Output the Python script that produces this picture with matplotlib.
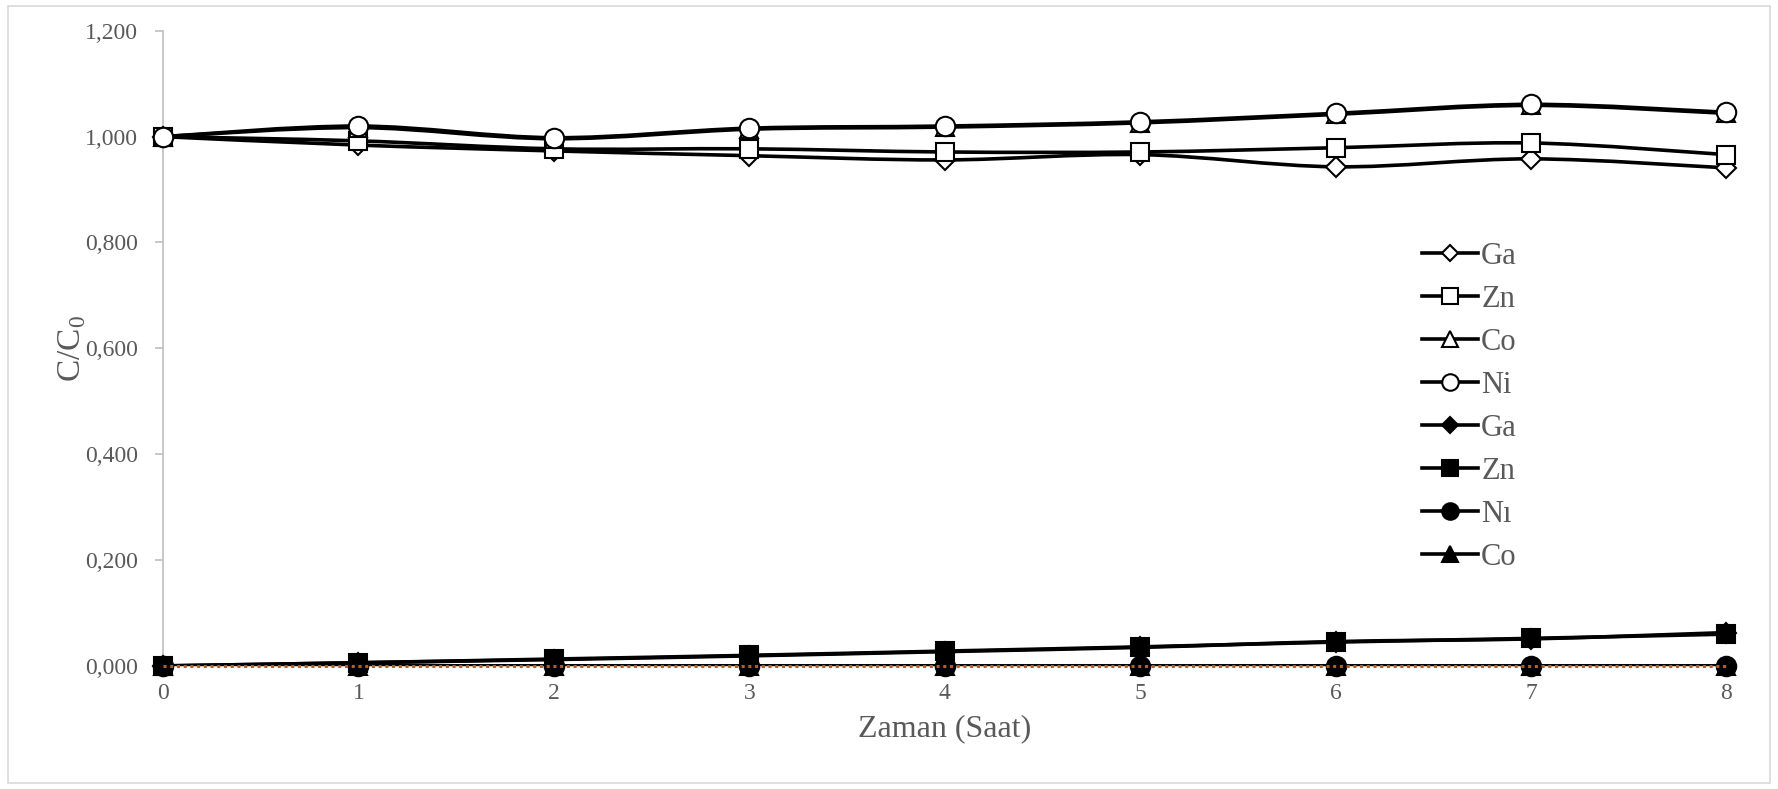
import numpy as np
import matplotlib
matplotlib.use("Agg")
import matplotlib.pyplot as plt
from matplotlib.path import Path
from matplotlib.patches import PathPatch, Rectangle
from matplotlib.lines import Line2D

plt.rcParams['font.family'] = ['Liberation Serif', 'DejaVu Serif']
plt.rcParams['mathtext.fontset'] = 'custom'
plt.rcParams['mathtext.rm'] = 'Liberation Serif'

# ---------------- data ----------------
hours = [0, 1, 2, 3, 4, 5, 6, 7, 8]

ga_open = [1.000, 0.984, 0.973, 0.964, 0.956, 0.966, 0.943, 0.958, 0.941]
zn_open = [1.000, 0.992, 0.977, 0.977, 0.971, 0.971, 0.979, 0.988, 0.966]
co_open = [1.000, 1.017, 0.996, 1.014, 1.018, 1.026, 1.042, 1.059, 1.044]
ni_open = [1.000, 1.020, 0.998, 1.016, 1.020, 1.028, 1.044, 1.061, 1.046]

ga_fill = [0.000, 0.006, 0.012, 0.019, 0.027, 0.035, 0.046, 0.051, 0.063]
zn_fill = [0.000, 0.006, 0.013, 0.020, 0.028, 0.036, 0.045, 0.052, 0.060]
ni_fill = [0.000, 0.000, 0.000, 0.000, 0.000, 0.000, 0.000, 0.000, 0.000]
co_fill = [0.000, 0.000, 0.000, 0.000, 0.000, 0.000, 0.000, 0.000, 0.000]

baseline = [0.000] * 9

labels = ["Ga", "Zn", "Co", "Ni", "Ga", "Zn", "N\u0131", "Co"]
series = [ga_open, zn_open, co_open, ni_open, ga_fill, zn_fill, ni_fill, co_fill]
markers = ["D", "s", "^", "o", "D", "s", "o", "^"]
faces = ["white"] * 4 + ["black"] * 4
msizes = [10, 13, 13, 14, 10, 13, 14, 13]

GRAY_TXT = "#595959"
GRAY_AX = "#BFBFBF"


def smooth_path(x, y):
    # cubic Bezier segments through the points (Catmull-Rom style)
    pts = np.column_stack([x, y]).astype(float)
    n = len(pts)
    verts = [pts[0]]
    codes = [Path.MOVETO]
    for i in range(n - 1):
        p0 = pts[i - 1] if i > 0 else pts[i]
        p1 = pts[i]
        p2 = pts[i + 1]
        p3 = pts[i + 2] if i + 2 < n else pts[i + 1]
        c1 = p1 + (p2 - p0) / 6.0
        c2 = p2 - (p3 - p1) / 6.0
        verts += [c1, c2, p2]
        codes += [Path.CURVE4] * 3
    return Path(verts, codes)


fig = plt.figure(figsize=(17.78, 7.89), dpi=100)
ax = fig.add_axes([0.0917, 0.156, 0.8793, 0.805])

fig.patches.append(Rectangle((8 / 1778, 6 / 789), 1762 / 1778, 777 / 789,
                             transform=fig.transFigure, fill=False,
                             edgecolor="#D9D9D9", lw=1.2))

handles = []
for i, (vals, lab, mk, fc, ms) in enumerate(zip(series, labels, markers, faces, msizes)):
    z = 3 + i * 0.1
    ax.add_patch(PathPatch(smooth_path(hours, vals), fill=False, edgecolor="black",
                           lw=2.6, zorder=z, capstyle="round", joinstyle="round"))
    ax.plot(hours, vals, linestyle="none", marker=mk, markersize=ms,
            markerfacecolor=fc, markeredgecolor="black", markeredgewidth=1.5,
            zorder=z + 0.05, clip_on=False)
    handles.append(Line2D([], [], color="black", lw=2.6, marker=mk, markersize=ms * 0.85,
                          markerfacecolor=fc, markeredgecolor="black",
                          markeredgewidth=1.5, label=lab))

# dotted reference series along zero
ax.plot(hours, baseline, linestyle=(0, (1, 1.2)), color="#C55A11", lw=2.2, zorder=10,
        clip_on=False)

ax.set_xlim(0, 8)
ax.set_ylim(0, 1.2)
ax.set_xticks(hours)
ax.set_yticks(np.arange(0, 1.21, 0.2))
ax.set_yticklabels([f"{v:.3f}".replace(".", ",") for v in np.arange(0, 1.21, 0.2)])

for s in ["top", "right"]:
    ax.spines[s].set_visible(False)
for s in ["left", "bottom"]:
    ax.spines[s].set_color(GRAY_AX)
    ax.spines[s].set_linewidth(1.2)

ax.tick_params(axis="y", colors=GRAY_AX, labelcolor=GRAY_TXT, labelsize=17,
               length=6, width=1.2, pad=12)
ax.tick_params(axis="x", colors=GRAY_AX, labelcolor=GRAY_TXT, labelsize=17,
               length=0, pad=12)

ax.set_xlabel("Zaman (Saat)", fontsize=23, color=GRAY_TXT, labelpad=8)
ax.set_ylabel("C/C$_\\mathregular{0}$", fontsize=24, color=GRAY_TXT, labelpad=-2)

leg = ax.legend(handles=handles, loc="upper left", bbox_to_anchor=(0.805, 0.668),
                frameon=False, fontsize=22, handlelength=1.85, handletextpad=0.1,
                labelspacing=0.46, borderpad=0, borderaxespad=0)
for t in leg.get_texts():
    t.set_color(GRAY_TXT)

fig.savefig("out.png", dpi=100)
